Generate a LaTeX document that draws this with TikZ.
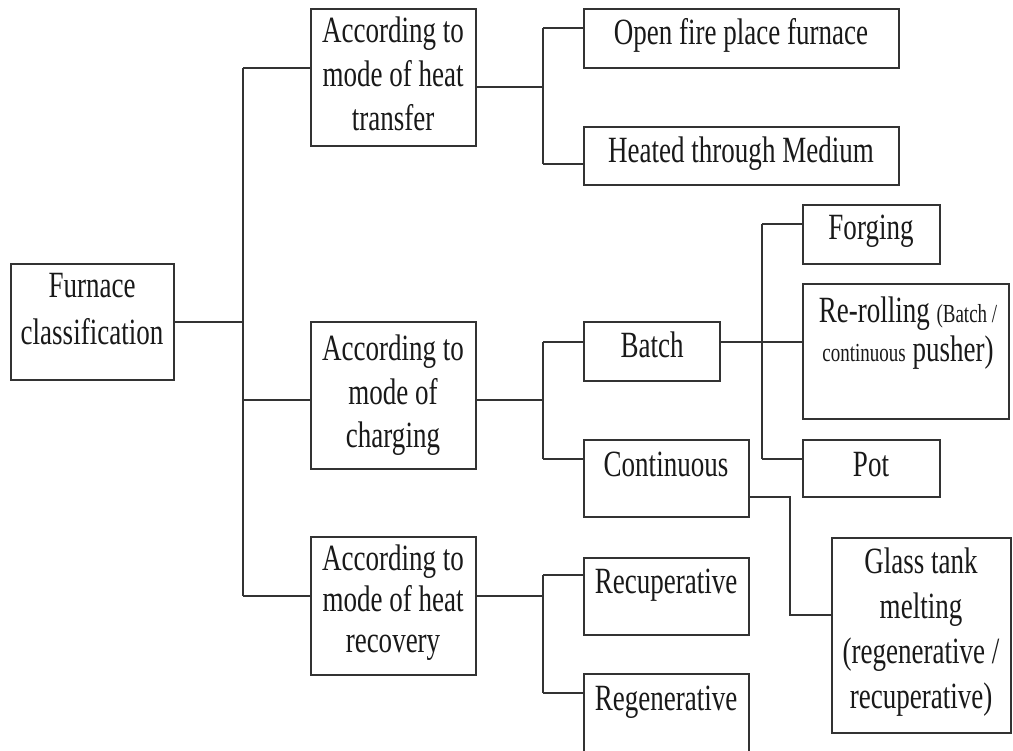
\documentclass[tikz,border=0pt]{standalone}
\usepackage{fontspec}
\setmainfont{Liberation Serif}[FakeStretch=0.73]
% box given by its left, top, right and bottom edges
\newcommand\furnbox[5]{%
  \node[box, minimum width={#4-#2}, minimum height={#5-#3}] (#1)
    at ({(#2+#4)/2},{(#3+#5)/2}) {};}
\begin{document}
\begin{tikzpicture}[x=1pt,y=-1pt,
  box/.style={draw=black!80, line width=2pt, rectangle, inner sep=0pt, outer sep=0pt},
  lbl/.style={font=\fontsize{37}{43}\selectfont, align=center, anchor=base, inner sep=0pt, text=black!90},
  lskip/.style={font=\fontsize{37}{#1}\selectfont},
  conn/.style={draw=black!80, line width=2pt}]
\useasboundingbox[fill=white] (0,0) rectangle (1013,751);

% boxes
\furnbox{F}{11}{264}{174}{380}
\furnbox{A1}{311}{9}{476}{146}
\furnbox{A2}{311}{322}{476}{469}
\furnbox{A3}{311}{537}{476}{675}
\furnbox{O}{584}{9}{899}{68}
\furnbox{H}{584}{127}{899}{185}
\furnbox{B}{584}{322}{720}{381}
\furnbox{C}{584}{440}{749}{517}
\furnbox{Rc}{584}{558}{749}{635}
\furnbox{Rg}{584}{674}{749}{754}
\furnbox{Fg}{803}{205}{940}{264}
\furnbox{RR}{803}{284}{1009}{419}
\furnbox{P}{803}{440}{940}{497}
\furnbox{G}{832}{538}{1011}{733}

% labels (multi-line labels sit on the baseline of their last line)
\node[lbl, lskip=47] (F-t)  at (92,345)  {Furnace\\classification};
\node[lbl, lskip=44] (A1-t) at (393,131) {According to\\mode of heat\\transfer};
\node[lbl, lskip=44] (A2-t) at (393,448) {According to\\mode of\\charging};
\node[lbl, lskip=41] (A3-t) at (393,652) {According to\\mode of heat\\recovery};
\node[lbl] (O-t)  at (741,45)  {Open fire place furnace};
\node[lbl] (H-t)  at (741,163) {Heated through Medium};
\node[lbl] (B-t)  at (652,358) {Batch};
\node[lbl] (C-t)  at (666,477) {Continuous};
\node[lbl] (Rc-t) at (666,593) {Recuperative};
\node[lbl] (Rg-t) at (666,710) {Regenerative};
\node[lbl] (Fg-t) at (871,240) {Forging};
\node[lbl, lskip=39] (RR-t) at (908,362)
  {Re-rolling {\fontsize{26}{30}\selectfont(Batch /}\\{\fontsize{26}{30}\selectfont continuous} pusher)};
\node[lbl] (P-t)  at (871,477) {Pot};
\node[lbl, lskip=45] (G-t) at (921,708)
  {Glass tank\\melting\\(regenerative /\\recuperative)};

% junction points
\coordinate (jF) at (243,322);
\coordinate (T1) at (243,68);
\coordinate (T2) at (243,596);
\coordinate (jA2) at (243,400);
\coordinate (uA1) at (543,87);
\coordinate (U1) at (543,28);
\coordinate (U2) at (543,164);
\coordinate (vA2) at (543,400);
\coordinate (V1) at (543,342);
\coordinate (V2) at (543,459);
\coordinate (wA3) at (543,596);
\coordinate (W1) at (543,575);
\coordinate (W2) at (543,693);
\coordinate (X1) at (762,224);
\coordinate (X2) at (762,459);
\coordinate (Y1) at (790,497);
\coordinate (Y2) at (790,615);

% connectors
\draw[conn] (jF -| F.east) -- (jF);
\draw[conn] (T1) -- (T2);
\draw[conn] (T1) -- (T1 -| A1.west);
\draw[conn] (jA2) -- (jA2 -| A2.west);
\draw[conn] (T2) -- (T2 -| A3.west);

\draw[conn] (uA1 -| A1.east) -- (uA1);
\draw[conn] (U1) -- (U2);
\draw[conn] (U1) -- (U1 -| O.west);
\draw[conn] (U2) -- (U2 -| H.west);

\draw[conn] (vA2 -| A2.east) -- (vA2);
\draw[conn] (V1) -- (V2);
\draw[conn] (V1) -- (V1 -| B.west);
\draw[conn] (V2) -- (V2 -| C.west);

\draw[conn] (wA3 -| A3.east) -- (wA3);
\draw[conn] (W1) -- (W2);
\draw[conn] (W1) -- (W1 -| Rc.west);
\draw[conn] (W2) -- (W2 -| Rg.west);

\draw[conn] (V1 -| B.east) -- (V1 -| RR.west);
\draw[conn] (X1) -- (X2);
\draw[conn] (X1) -- (X1 -| Fg.west);
\draw[conn] (X2) -- (X2 -| P.west);

\draw[conn] (Y1 -| C.east) -- (Y1) -- (Y2) -- (Y2 -| G.west);
\end{tikzpicture}
\end{document}
